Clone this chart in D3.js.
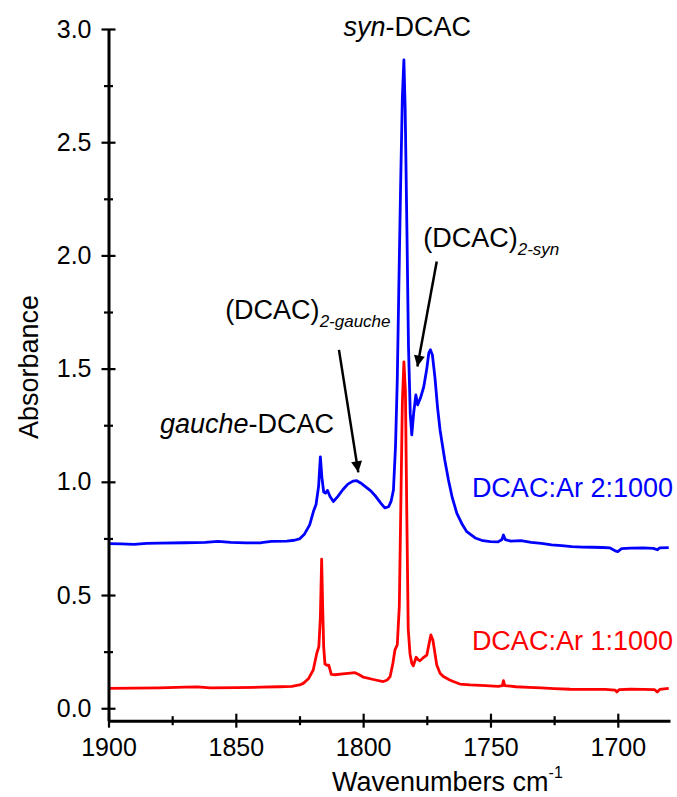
<!DOCTYPE html>
<html>
<head>
<meta charset="utf-8">
<script src="https://cdn.jsdelivr.net/npm/d3@7"></script>
<style>
  body { margin: 0; background: #fff; overflow: hidden; }
  svg { display: block; }
  svg text { font-family: "Liberation Sans", Arial, sans-serif; fill: #000; }
</style>
</head>
<body>
<script>
// DCAC:Ar 2:1000 (blue) - [wavenumber, absorbance]
var spec2 = [
  [1900,0.727],[1895,0.726],[1890,0.724],[1885,0.728],[1880,0.729],[1870,0.731],
  [1862,0.733],[1857,0.737],[1852,0.733],[1846,0.730],[1840,0.731],[1836,0.737],
  [1830,0.738],[1827,0.742],[1825,0.748],[1823,0.770],[1821,0.810],[1819.5,0.870],
  [1818.5,0.900],[1817.5,0.980],[1816.8,1.110],[1816.2,1.020],[1815.5,0.955],
  [1814.8,0.950],[1814,0.962],[1813,0.935],[1811.7,0.913],[1810,0.935],[1808,0.965],
  [1806,0.990],[1804,1.003],[1802.5,1.005],[1801,0.995],[1799,0.978],[1797,0.960],
  [1795,0.935],[1793,0.905],[1791.5,0.885],[1790,0.890],[1789,0.915],[1788.1,0.964],
  [1787.3,1.155],[1786.6,1.450],[1786,1.850],[1785.3,2.300],[1784.6,2.700],
  [1784,2.864],[1783.5,2.650],[1782.8,2.100],[1782.2,1.600],[1781.5,1.300],
  [1780.9,1.207],[1780.2,1.300],[1779.3,1.384],[1778.6,1.340],[1777.5,1.370],
  [1776.2,1.420],[1775,1.500],[1774.2,1.570],[1773.6,1.583],[1772.8,1.560],
  [1771.8,1.460],[1770.8,1.330],[1769.8,1.229],[1768,1.100],[1766.5,1.008],
  [1765,0.930],[1763.2,0.861],[1761,0.810],[1759.3,0.780],[1756,0.752],[1753,0.740],
  [1750,0.736],[1747,0.735],[1745.5,0.745],[1744.9,0.765],[1744.2,0.745],[1742,0.738],
  [1738,0.740],[1734,0.733],[1730,0.728],[1726,0.722],[1722,0.718],[1718,0.714],
  [1714,0.712],[1710,0.711],[1706,0.710],[1703,0.708],[1701,0.695],[1700,0.692],
  [1698.5,0.705],[1695,0.707],[1690,0.708],[1686,0.706],[1684.5,0.700],[1683.5,0.708],
  [1680,0.709]
];

// DCAC:Ar 1:1000 (red)
var spec1 = [
  [1900,0.088],[1890,0.089],[1880,0.090],[1870,0.093],[1865,0.094],[1860,0.090],
  [1850,0.091],[1840,0.093],[1833,0.095],[1828,0.097],[1825,0.103],[1823.5,0.110],
  [1821.5,0.130],[1819.6,0.169],[1818.2,0.243],[1817.4,0.272],[1816.8,0.400],
  [1816.3,0.659],[1815.9,0.450],[1815.5,0.272],[1815,0.195],[1814.2,0.190],
  [1813.5,0.190],[1812.5,0.150],[1811,0.148],[1808,0.152],[1805,0.155],[1803.2,0.157],
  [1801.5,0.148],[1799.9,0.137],[1796,0.127],[1792.1,0.118],[1790.5,0.125],
  [1789.4,0.140],[1788.3,0.200],[1787.5,0.258],[1786.6,0.280],[1785.8,0.449],
  [1785.2,0.900],[1784.6,1.350],[1784,1.530],[1783.4,1.400],[1782.9,0.900],
  [1782.3,0.350],[1781.6,0.240],[1780.9,0.199],[1780.3,0.187],[1779.2,0.225],
  [1778.4,0.215],[1777.7,0.210],[1776.5,0.222],[1775,0.235],[1774.2,0.280],
  [1773.4,0.324],[1772.6,0.300],[1772.2,0.272],[1771.1,0.191],[1769.8,0.155],
  [1768.5,0.140],[1766,0.125],[1764.6,0.118],[1762,0.107],[1758,0.103],[1752,0.100],
  [1747,0.097],[1745.3,0.100],[1744.9,0.122],[1744.4,0.100],[1740,0.095],[1735,0.092],
  [1730,0.090],[1725,0.087],[1718.7,0.084],[1712,0.083],[1705,0.083],[1701,0.080],
  [1700.4,0.072],[1699.5,0.082],[1695,0.084],[1690,0.083],[1685.5,0.082],
  [1684.5,0.072],[1683.5,0.083],[1680,0.088]
];

var xTicks = [1900, 1850, 1800, 1750, 1700];
var xMinor = [1875, 1825, 1775, 1725];
var yTicks = [0, 0.5, 1.0, 1.5, 2.0, 2.5, 3.0];
var yMinor = [0.25, 0.75, 1.25, 1.75, 2.25, 2.75];

// annotation labels, anchored at [wavenumber, absorbance]
var labels = [
  {w: 1807.7, a: 2.969, parts: [["syn", "italic"], ["-DCAC", "normal"]], color: "#000"},
  {w: 1879.8, a: 1.215, parts: [["gauche", "italic"], ["-DCAC", "normal"]], color: "#000"},
  {w: 1854.2, a: 1.720, parts: [["(DCAC)", "normal"]], sub: "2-gauche", color: "#000"},
  {w: 1776.4, a: 2.039, parts: [["(DCAC)", "normal"]], sub: "2-syn", color: "#000"},
  {w: 1757.3, a: 0.932, parts: [["DCAC:Ar 2:1000", "normal"]], color: "#0000ff"},
  {w: 1757.3, a: 0.258, parts: [["DCAC:Ar 1:1000", "normal"]], color: "#ff0000"}
];

// arrows: from [w, a] to [w, a]
var arrows = [
  {from: [1809.5, 1.583], to: [1801.9, 1.042]},
  {from: [1771.1, 1.973], to: [1778.7, 1.509]}
];

var W = 677, H = 797;
var margin = {top: 29, right: 7, bottom: 76.3, left: 108.5};

var svg = d3.select("body").append("svg")
    .attr("width", W)
    .attr("height", H);

var x = d3.scaleLinear().domain([1900, 1679.5]).range([margin.left, W - margin.right]);
var y = d3.scaleLinear().domain([-0.055, 3.0]).range([H - margin.bottom, margin.top]);

var line = d3.line()
    .x(function(d) { return x(d[0]); })
    .y(function(d) { return y(d[1]); });

svg.append("path")
    .datum(spec2)
    .attr("fill", "none")
    .attr("stroke", "#0000ff")
    .attr("stroke-width", 2.8)
    .attr("stroke-linejoin", "round")
    .attr("d", line);

svg.append("path")
    .datum(spec1)
    .attr("fill", "none")
    .attr("stroke", "#ff0000")
    .attr("stroke-width", 2.8)
    .attr("stroke-linejoin", "round")
    .attr("d", line);

// axes (ticks crossing the axis line, like the original)
function crossTicks(g, len, vertical) {
    g.selectAll(".tick line")
        .attr("stroke", "#000")
        .attr("stroke-width", 2.2)
        .attr(vertical ? "x1" : "y1", len)
        .attr(vertical ? "x2" : "y2", -len);
}

var xAxisY = H - margin.bottom;

var gxMinor = svg.append("g")
    .attr("transform", "translate(0," + xAxisY + ")")
    .call(d3.axisBottom(x).tickValues(xMinor).tickFormat("").tickSizeOuter(0));
gxMinor.select(".domain").remove();
crossTicks(gxMinor, 4.5, false);

var gx = svg.append("g")
    .attr("transform", "translate(0," + xAxisY + ")")
    .call(d3.axisBottom(x).tickValues(xTicks).tickFormat(d3.format("d")).tickSizeOuter(0).tickPadding(12));
gx.select(".domain").attr("stroke", "#000").attr("stroke-width", 3);
crossTicks(gx, 7, false);
gx.selectAll("text").attr("font-size", 25).attr("fill", "#000")
    .attr("font-family", "Liberation Sans, Arial, sans-serif");

var gyMinor = svg.append("g")
    .attr("transform", "translate(" + margin.left + ",0)")
    .call(d3.axisLeft(y).tickValues(yMinor).tickFormat("").tickSizeOuter(0));
gyMinor.select(".domain").remove();
crossTicks(gyMinor, 4.5, true);

var gy = svg.append("g")
    .attr("transform", "translate(" + margin.left + ",0)")
    .call(d3.axisLeft(y).tickValues(yTicks).tickFormat(d3.format(".1f")).tickSizeOuter(0).tickPadding(11));
gy.select(".domain").attr("stroke", "#000").attr("stroke-width", 3);
crossTicks(gy, 7, true);
gy.selectAll("text").attr("font-size", 25).attr("fill", "#000")
    .attr("font-family", "Liberation Sans, Arial, sans-serif");

// axis titles
svg.append("text")
    .attr("transform", "translate(38," + 367 + ") rotate(-90)")
    .attr("text-anchor", "middle")
    .attr("font-size", 27)
    .text("Absorbance");

var xt = svg.append("text")
    .attr("x", 332)
    .attr("y", 791)
    .attr("font-size", 27);
xt.append("tspan").text("Wavenumbers cm");
xt.append("tspan").attr("font-size", 16).attr("dy", -13).text("-1");

// annotations
labels.forEach(function(l) {
    var t = svg.append("text")
        .attr("x", x(l.w))
        .attr("y", y(l.a))
        .attr("font-size", 27)
        .style("fill", l.color);
    l.parts.forEach(function(p) {
        t.append("tspan").attr("font-style", p[1]).style("fill", l.color).text(p[0]);
    });
    if (l.sub) {
        t.append("tspan")
            .attr("font-size", 17)
            .attr("font-style", "italic")
            .attr("dy", 8)
            .text(l.sub);
    }
});

svg.append("defs").append("marker")
    .attr("id", "head")
    .attr("viewBox", "0 0 10 10")
    .attr("refX", 10)
    .attr("refY", 5)
    .attr("markerUnits", "userSpaceOnUse")
    .attr("markerWidth", 16)
    .attr("markerHeight", 11)
    .attr("orient", "auto")
  .append("path")
    .attr("d", "M0,0 L10,5 L0,10 Z")
    .attr("fill", "#000");

svg.selectAll(".arrow")
    .data(arrows)
    .enter().append("line")
    .attr("class", "arrow")
    .attr("x1", function(d) { return x(d.from[0]); })
    .attr("y1", function(d) { return y(d.from[1]); })
    .attr("x2", function(d) { return x(d.to[0]); })
    .attr("y2", function(d) { return y(d.to[1]); })
    .attr("stroke", "#000")
    .attr("stroke-width", 2.5)
    .attr("marker-end", "url(#head)");
</script>
</body>
</html>
